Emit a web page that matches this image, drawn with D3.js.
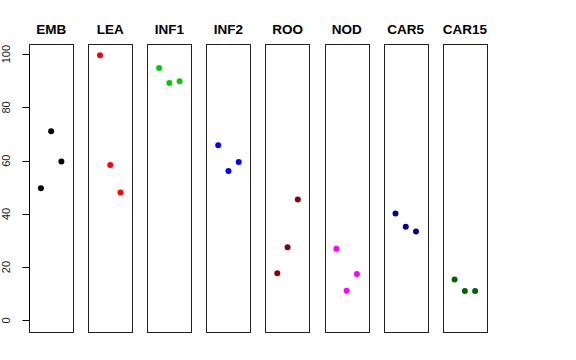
<!DOCTYPE html>
<html>
<head>
<meta charset="utf-8">
<script src="https://cdn.jsdelivr.net/npm/d3@7"></script>
<style>
  body { margin: 0; background: #fff; }
  text { font-family: "Liberation Sans", Arial, Helvetica, sans-serif; }
</style>
</head>
<body>
<svg width="576" height="360"></svg>
<script>
// one panel per stage, three replicates each
var stages = ["EMB", "LEA", "INF1", "INF2", "ROO", "NOD", "CAR5", "CAR15"];
var colors = ["#000000", "#FF0000", "#00CD00", "#0000FF", "#8B0000", "#FF00FF", "#00008B", "#006400"];
var rep1 = [49.6, 99.6, 94.8, 65.8, 17.7, 26.9, 40.1, 15.3];
var rep2 = [71.0, 58.4, 89.2, 56.1, 27.5, 11.1, 35.2, 11.0];
var rep3 = [59.7, 48.0, 89.8, 59.5, 45.4, 17.4, 33.4, 11.0];
var yTicks = [0, 20, 40, 60, 80, 100];

var svg = d3.select("svg");
var plotTop = 43.5, plotBottom = 331, left0 = 29, step = 59.1, w = 44.3;

var y = d3.scaleLinear().domain([-4, 104]).range([plotBottom, plotTop]);

stages.forEach(function(name, i) {
  var left = left0 + i * step;
  var x = d3.scaleLinear().domain([-0.16, 4.16]).range([left, left + w]);
  var g = svg.append("g");
  g.append("rect")
    .attr("x", Math.round(left) + 0.5).attr("y", Math.round(plotTop) + 0.5)
    .attr("width", Math.round(w)).attr("height", Math.round(plotBottom - plotTop))
    .attr("fill", "none").attr("stroke", "#222").attr("stroke-width", 1);
  g.append("text")
    .attr("x", left + w / 2).attr("y", 34)
    .attr("text-anchor", "middle")
    .attr("font-size", 13.5).attr("font-weight", "bold")
    .text(name);
  var vals = [rep1[i], rep2[i], rep3[i]];
  g.selectAll("circle").data(vals).enter().append("circle")
    .attr("cx", function(d, j) { return x(j + 1); })
    .attr("cy", function(d) { return y(d); })
    .attr("r", 3)
    .attr("fill", colors[i]);
});

// shared y axis on the left edge of the first panel
var ax = svg.append("g").attr("transform", "translate(" + (Math.round(left0) + 0.5) + ",0)");
ax.append("line")
  .attr("x1", 0).attr("x2", 0)
  .attr("y1", y(0)).attr("y2", y(100))
  .attr("stroke", "#000");
ax.selectAll(".tick").data(yTicks).enter().append("line")
  .attr("x1", -7).attr("x2", 0)
  .attr("y1", function(d) { return Math.round(y(d)) + 0.5; })
  .attr("y2", function(d) { return Math.round(y(d)) + 0.5; })
  .attr("stroke", "#000");
ax.selectAll(".lab").data(yTicks).enter().append("text")
  .attr("transform", function(d) { return "translate(-19.5," + y(d) + ") rotate(-90)"; })
  .attr("text-anchor", "middle")
  .attr("font-size", 11)
  .attr("fill", "#222")
  .text(function(d) { return d; });
</script>
</body>
</html>
